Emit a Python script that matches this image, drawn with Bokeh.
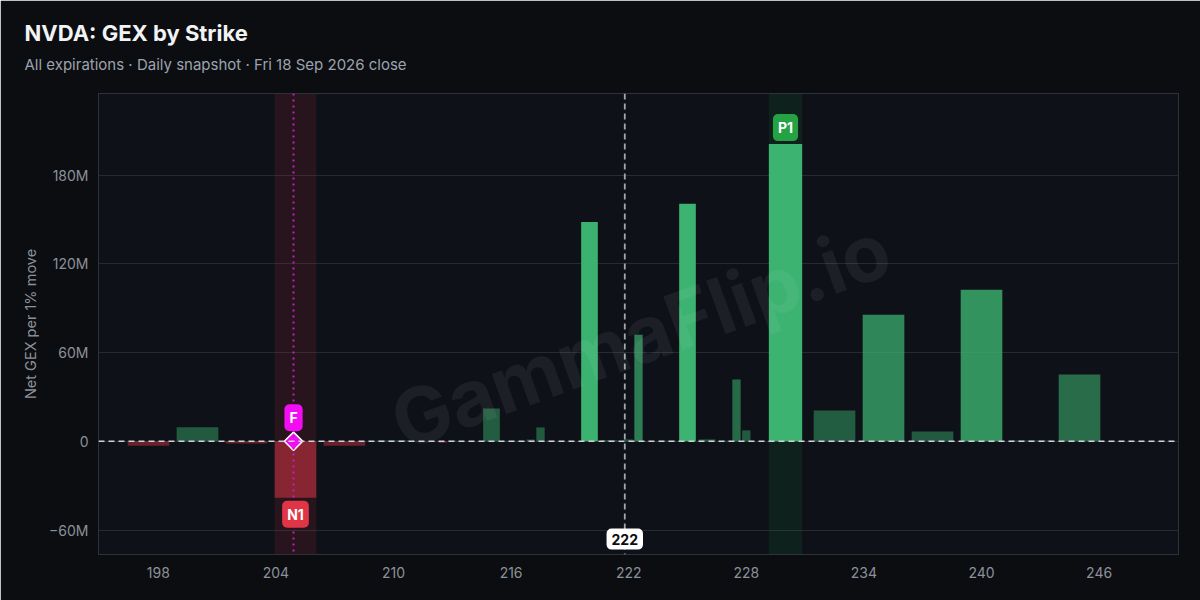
import numpy as np
from bokeh.plotting import figure
from bokeh.models import ColumnDataSource, Range1d, Span, BoxAnnotation, Label, Title, FixedTicker
from bokeh.embed import file_html
from bokeh.resources import INLINE

# ---------------- data ----------------
TITLE = "NVDA: GEX by Strike"
SUBTITLE = "All expirations · Daily snapshot · Fri 18 Sep 2026 close"
Y_LABEL = "Net GEX per 1% move"
WATERMARK = "GammaFlip.io"

strikes = [197.5, 200, 202.5, 205, 207.5, 210, 212, 212.5, 213, 215, 216, 217,
           217.5, 218, 220, 221, 222, 222.5, 223, 224, 225, 226, 227, 227.5,
           228, 230, 232.5, 235, 237.5, 240, 242.5, 245]
gex_m = [-3.0, 9.5, -1.5, -38.2, -3.0, 0.6, 0.2, -1.0, 0.4, 22.2, 0.3, 1.2,
         9.4, 0.4, 148.3, 0.8, 1.3, 72.1, 0.3, 0.4, 160.5, 1.3, 0.4, 41.8,
         7.4, 200.9, 20.9, 85.6, 6.7, 102.5, 0.5, 45.2]

x_ticks = [198, 204, 210, 216, 222, 228, 234, 240, 246]
y_ticks_m = [-60, 0, 60, 120, 180]
y_tick_labels = ["\u221260M", "0", "60M", "120M", "180M"]

spot_price = 221.8
spot_label = "222"
flip_strike = 204.9
flip_label = "F"
p1_strike = 230
p1_label = "P1"
n1_strike = 205
n1_label = "N1"

# ---------------- styles ----------------
FONT = "Inter"
BG_OUT = "#0b0d10"
BG_IN = "#0e1118"
POS = "#3cb371"
NEG = "#dc3545"
MUTED = "#8b919a"

s = np.array(strikes, dtype=float)
v = np.array(gex_m, dtype=float)
gaps = np.diff(s)
left_gap = np.concatenate([[np.inf], gaps])
right_gap = np.concatenate([gaps, [np.inf]])
widths = 0.85 * np.minimum(left_gap, right_gap)
vmax = np.abs(v).max()
alphas = 0.45 + 0.55 * np.clip((np.abs(v) - 0.085 * vmax) / (0.66 * vmax), 0, 1)
colors = [POS if x >= 0 else NEG for x in v]

src = ColumnDataSource(dict(x=s, top=np.maximum(v, 0), bottom=np.minimum(v, 0),
                            w=widths, c=colors, a=alphas))

def width_of(strike):
    return float(widths[list(strikes).index(strike)])

p = figure(width=1200, height=600,
           x_range=Range1d(194.95, 250.05), y_range=Range1d(-76.5, 235.1),
           output_backend="svg", toolbar_location=None, title=None,
           min_border_left=98, min_border_right=22, min_border_top=93, min_border_bottom=46,
           background_fill_color=BG_IN, border_fill_color=BG_OUT,
           outline_line_color="#2e323a", outline_line_width=1)

# axes
for ax in (p.xaxis[0], p.yaxis[0]):
    ax.axis_line_color = None
    ax.major_tick_line_color = None
    ax.minor_tick_line_color = None
    ax.major_tick_out = 0
    ax.major_tick_in = 0
    ax.major_label_text_font = FONT
    ax.major_label_text_font_size = "14px"
    ax.major_label_text_color = MUTED

p.xaxis.ticker = FixedTicker(ticks=x_ticks)
p.xaxis.major_label_standoff = 12
p.yaxis.ticker = FixedTicker(ticks=y_ticks_m)
p.yaxis.major_label_overrides = {t: l for t, l in zip(y_ticks_m, y_tick_labels)}
p.yaxis.major_label_standoff = 10
p.yaxis.axis_label = Y_LABEL
p.yaxis.axis_label_text_font = FONT
p.yaxis.axis_label_text_font_size = "14.5px"
p.yaxis.axis_label_text_font_style = "normal"
p.yaxis.axis_label_text_color = MUTED
p.yaxis.axis_label_standoff = 7

p.xgrid.grid_line_color = None
p.ygrid.ticker = FixedTicker(ticks=y_ticks_m)
p.ygrid.grid_line_color = "#262a31"
p.ygrid.grid_line_width = 1

# titles
sub = Title(text=SUBTITLE, align="left", offset=-74, text_font=FONT, text_font_size="15px",
            text_font_style="normal", text_color="#9ca3af", standoff=40)
main = Title(text=TITLE, align="left", offset=-74, text_font=FONT, text_font_size="22px",
             text_font_style="bold", text_color="#f1f3f5", standoff=-27)
p.add_layout(sub, "above")
p.add_layout(main, "above")

# highlight bands
wn = width_of(n1_strike)
wp = width_of(p1_strike)
p.add_layout(BoxAnnotation(left=n1_strike - wn / 2, right=n1_strike + wn / 2,
                           fill_color=NEG, fill_alpha=0.12, line_color=None, level="underlay"))
p.add_layout(BoxAnnotation(left=p1_strike - wp / 2, right=p1_strike + wp / 2,
                           fill_color="#22c55e", fill_alpha=0.09, line_color=None, level="underlay"))

# bars
p.vbar(x="x", width="w", top="top", bottom="bottom", fill_color="c", fill_alpha="a",
       line_color=None, source=src)

# reference lines
p.add_layout(Span(location=flip_strike, dimension="height", line_color="#c21ec2",
                  line_width=2, line_dash="2 4"))
p.add_layout(Span(location=spot_price, dimension="height", line_color="#a3a8b0",
                  line_width=1.8, line_dash="6 4"))
p.add_layout(Span(location=0, dimension="width", line_color="#cfd3d9",
                  line_width=1.5, line_dash="6 4"))

# flip marker
p.scatter(x=[flip_strike], y=[0], marker="square", size=13, angle=np.pi / 4,
          fill_color="#f20df2", line_color="white", line_width=1.5)

# badges
badge = dict(text_align="center", text_font=FONT, text_font_size="14px",
             text_font_style="bold", text_color="white", border_radius=5, padding=(5, 5))
p.add_layout(Label(x=flip_strike, y=0, y_offset=10, text=flip_label, text_baseline="bottom",
                   background_fill_color="#f20df2", **badge))
p.add_layout(Label(x=p1_strike, y=gex_m[strikes.index(p1_strike)], y_offset=3, text=p1_label,
                   text_baseline="bottom", background_fill_color="#25a244", **badge))
p.add_layout(Label(x=n1_strike, y=gex_m[strikes.index(n1_strike)], y_offset=-3, text=n1_label,
                   text_baseline="top", background_fill_color="#e03546", **badge))
spot_badge = dict(badge)
spot_badge["text_color"] = "#0b0d10"
p.add_layout(Label(x=spot_price, y=-66.1, text=spot_label, text_baseline="middle",
                   background_fill_color="white", **spot_badge))

# watermark
p.add_layout(Label(x=222.6, y=72, text=WATERMARK, angle=20, angle_units="deg",
                   text_align="center", text_baseline="middle", text_font=FONT,
                   text_font_size="78px", text_font_style="bold", text_color="white",
                   text_alpha=0.06))

open("out.html", "w").write(file_html(p, INLINE))
